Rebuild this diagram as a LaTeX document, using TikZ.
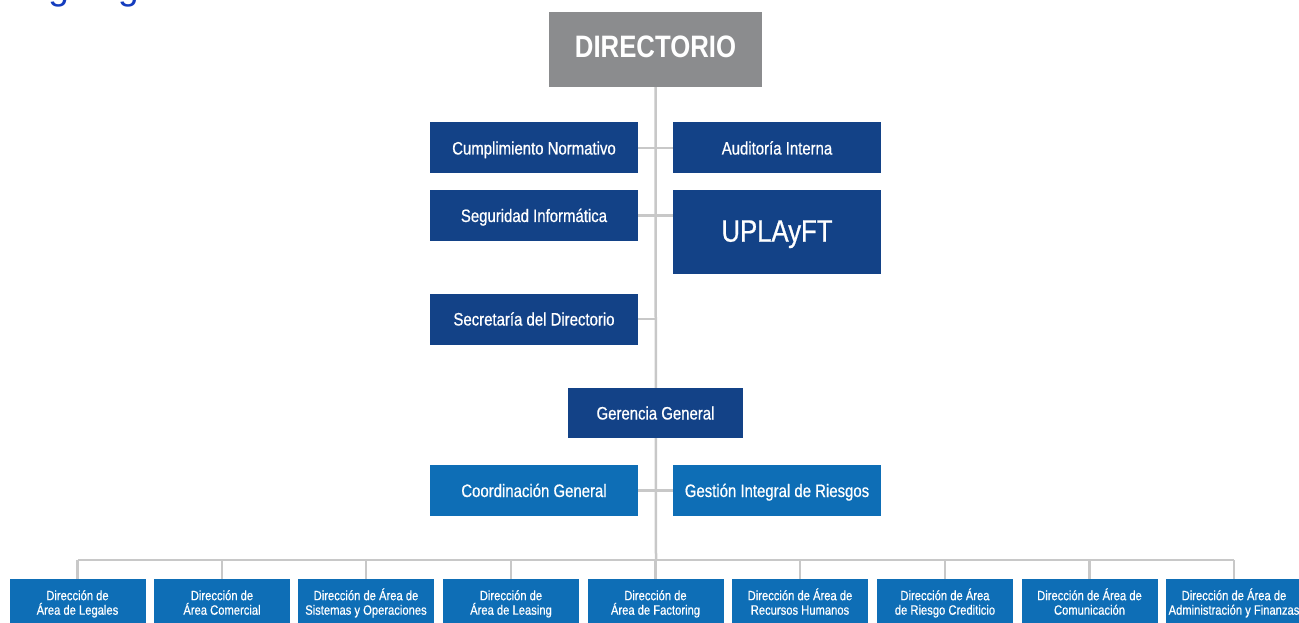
\documentclass[tikz,border=0pt]{standalone}
\usepackage{fontspec}
\setmainfont{Liberation Sans}
\newfontfamily\cond{Liberation Sans}[FakeStretch=0.83,FakeBold=0.6]
\newfontfamily\condbf{Liberation Sans Bold}[FakeStretch=0.83]
\usetikzlibrary{backgrounds}
\definecolor{navy}{RGB}{19,66,135}
\definecolor{midblue}{RGB}{14,110,182}
\definecolor{dirgray}{RGB}{139,140,142}
\definecolor{linegray}{RGB}{200,200,200}
\definecolor{titleblue}{RGB}{20,60,190}
\tikzset{
  box/.style={draw=none, inner sep=0pt, text=white, align=center,
    font=\cond\fontsize{18}{20}\selectfont, minimum width=208pt, minimum height=51pt,
    text height=14.5pt, text depth=1.5pt},
  navybox/.style={box, fill=navy},
  lightbox/.style={box, fill=midblue},
  areabox/.style={box, fill=midblue, minimum width=136pt, minimum height=51pt,
    font=\cond\fontsize{13.5}{14.5}\selectfont, text height=24.5pt, text depth=4.5pt},
  link/.style={draw=linegray, line width=2.5pt}
}
\begin{document}
\begin{tikzpicture}[x=1pt,y=-1pt]
\useasboundingbox (0,0) rectangle (1299,623);
\clip (0,0) rectangle (1299,623);

\node[anchor=base west, inner sep=0pt, text=titleblue,
  font=\fontsize{37}{40}\selectfont] (title) at (7,0) {Organigrama};

\node[box, fill=dirgray, minimum width=213pt, minimum height=75pt,
  font=\condbf\fontsize{31}{34}\selectfont, text height=22pt, text depth=5pt] (dir) at (655.5,49.5) {DIRECTORIO};

\node[navybox] (cn) at (534,148) {Cumplimiento Normativo};
\node[navybox] (ai) at (777,148) {Auditoría Interna};
\node[navybox] (si) at (534,215.5) {Seguridad Informática};
\node[navybox, minimum height=84pt, font=\cond\fontsize{31}{34}\selectfont,
  text height=22pt, text depth=2.6pt] (upla) at (777,232) {UPLAyFT};
\node[navybox] (sec) at (534,319) {Secretaría del Directorio};
\node[navybox, minimum width=175pt, minimum height=50pt] (gg) at (655.5,413) {Gerencia General};
\node[lightbox] (cg) at (534,490.5) {Coordinación General};
\node[lightbox] (gir) at (777,490.5) {Gestión Integral de Riesgos};

\node[areabox, anchor=north] (b1) at (77.5,579) {Dirección de\\Área de Legales};
\node[areabox, anchor=north] (b2) at (222,579) {Dirección de\\Área Comercial};
\node[areabox, anchor=north] (b3) at (366,579) {Dirección de Área de\\Sistemas y Operaciones};
\node[areabox, anchor=north] (b4) at (511,579) {Dirección de\\Área de Leasing};
\node[areabox, anchor=north] (b5) at (655.5,579) {Dirección de\\Área de Factoring};
\node[areabox, anchor=north] (b6) at (800,579) {Dirección de Área de\\Recursos Humanos};
\node[areabox, anchor=north] (b7) at (945,579) {Dirección de Área\\de Riesgo Crediticio};
\node[areabox, anchor=north] (b8) at (1089.5,579) {Dirección de Área de\\Comunicación};
\node[areabox, anchor=north] (b9) at (1234,579) {Dirección de Área de\\Administración y Finanzas};

\coordinate (bus) at (656,560);

\begin{scope}[on background layer]
  \draw[link] (dir.south) -- (bus);
  \draw[link] (cn.east) -- (ai.west);
  \draw[link] (si.east) -- (si.east -| upla.west);
  \draw[link] (sec.east) -- (sec.east -| bus);
  \draw[link] (cg.east) -- (gir.west);
  \draw[link] (b1.north |- bus) -- (b9.north |- bus);
  \foreach \b in {b1,b2,b3,b4,b5,b6,b7,b8,b9}
    \draw[link] (\b.north) -- (\b.north |- bus);
\end{scope}
\end{tikzpicture}
\end{document}
